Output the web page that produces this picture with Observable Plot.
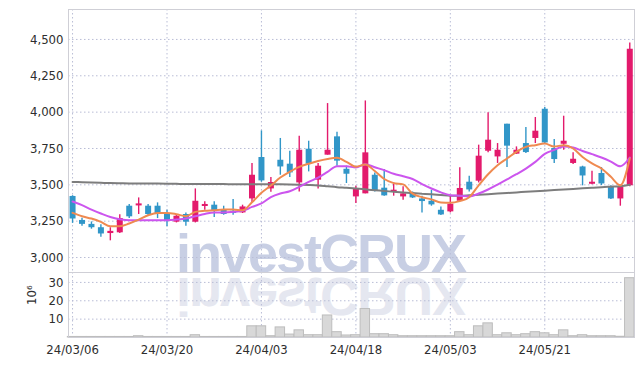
<!DOCTYPE html>
<html><head><meta charset="utf-8">
<script src="https://cdn.jsdelivr.net/npm/d3@7"></script>
<script src="https://cdn.jsdelivr.net/npm/@observablehq/plot@0.6"></script>
<style>
body{margin:0;background:#fff;}
#wrap{position:relative;width:642px;height:366px;overflow:hidden;}
#wm,#price,#vol{position:absolute;left:0;}
#wm{top:0;}
#price{top:0;}
#vol{top:272px;}
</style></head>
<body>
<div id="wrap">
<svg id="wm" width="642" height="366">
  <text x="176" y="272" font-family="Liberation Sans, Arial, sans-serif" font-weight="bold" font-size="54" letter-spacing="-2" fill="#c8cfe4">investCRUX</text>
  <text x="176" y="272" transform="translate(0,550) scale(1,-1)" font-family="Liberation Sans, Arial, sans-serif" font-weight="bold" font-size="54" letter-spacing="-2" fill="#e5e7f0">investCRUX</text>
</svg>
<div id="price"></div>
<div id="vol"></div>
</div>
<script>
const dates = ["24/03/06","24/03/07","24/03/08","24/03/11","24/03/12","24/03/13","24/03/14","24/03/15","24/03/18","24/03/19",
"24/03/20","24/03/21","24/03/22","24/03/25","24/03/26","24/03/27","24/03/28","24/03/29","24/04/01","24/04/02",
"24/04/03","24/04/04","24/04/05","24/04/08","24/04/09","24/04/11","24/04/12","24/04/15","24/04/16","24/04/17",
"24/04/18","24/04/19","24/04/22","24/04/23","24/04/24","24/04/25","24/04/26","24/04/29","24/04/30","24/05/02",
"24/05/03","24/05/07","24/05/08","24/05/09","24/05/10","24/05/13","24/05/14","24/05/16","24/05/17","24/05/20",
"24/05/21","24/05/22","24/05/23","24/05/24","24/05/27","24/05/28","24/05/29","24/05/30","24/05/31","24/06/03"];

const open  = [3420,3255,3228,3205,3165,3170,3353,3355,3353,3353, 3300,3243,3296,3243,3351,3360,3325,3318,3307,3403,
               3688,3472,3669,3642,3513,3745,3532,3704,3830,3607, 3417,3438,3566,3477,3451,3417,3440,3403,3387,3325,
               3314,3387,3518,3525,3731,3692,3917,3711,3784,3819, 4020,3750,3779,3647,3623,3504,3578,3482,3403,3493];
const high  = [3425,3270,3245,3225,3205,3295,3365,3410,3365,3376, 3325,3296,3307,3472,3383,3383,3353,3399,3360,3647,
               3871,3550,3819,3731,3835,3800,3647,4059,3862,3628, 3491,4077,3582,3605,3513,3486,3451,3422,3463,3348,
               3422,3617,3559,3773,3995,3784,3917,3761,3894,3963, 4032,3812,3972,3720,3628,3594,3619,3493,3497,4476];
const low   = [3235,3215,3195,3140,3115,3165,3268,3296,3284,3268, 3211,3238,3215,3238,3325,3275,3291,3291,3303,3376,
               3518,3449,3566,3550,3451,3589,3472,3704,3628,3509, 3372,3438,3451,3422,3422,3394,3406,3307,3353,3289,
               3307,3383,3451,3513,3720,3647,3619,3709,3715,3784, 3784,3647,3738,3640,3493,3500,3495,3399,3353,3486];
const close = [3265,3228,3205,3162,3180,3268,3280,3369,3296,3296, 3252,3284,3243,3387,3365,3318,3296,3303,3348,3566,
               3527,3516,3623,3582,3738,3642,3628,3738,3663,3573, 3468,3720,3458,3424,3463,3438,3410,3385,3362,3293,
               3367,3475,3465,3697,3807,3738,3766,3738,3722,3869, 3788,3674,3800,3676,3561,3518,3506,3403,3482,4432];
// volume in millions
const volume = [0.3,0.3,0.3,0.3,0.3,0.3,0.3,0.7,0.3,0.3, 0.3,0.3,0.3,1.25,0.3,0.3,0.3,0.3,0.3,6.1,
                6.1,0.7,5.5,1.6,3.9,1.25,1.25,12.0,2.9,1.1, 1.25,15.5,1.8,1.8,1.25,0.7,0.7,0.7,0.7,0.7,
                0.7,2.9,1.25,6.1,7.7,1.25,2.3,1.25,1.8,2.9, 2.3,1.25,3.9,0.7,1.25,0.7,0.7,0.7,0.4,32.3];
const maShort = [3307,3284,3268,3245,3215,3215,3234,3261,3291,3307, 3307,3298,3284,3314,3321,3325,3330,3330,3325,3380,
                 3445,3495,3550,3590,3624,3645,3664,3678,3686,3658, 3625,3640,3595,3540,3512,3503,3440,3415,3400,3378,
                 3376,3388,3415,3497,3573,3635,3681,3727,3761,3773, 3784,3763,3773,3750,3692,3647,3612,3555,3497,3681];
const maMid   = [3385,3360,3330,3303,3279,3264,3257,3257,3257,3257, 3257,3261,3268,3284,3300,3310,3310,3314,3321,3348,
                 3372,3415,3440,3456,3486,3520,3550,3589,3628,3628, 3619,3642,3621,3601,3576,3559,3540,3505,3475,3448,
                 3429,3425,3420,3440,3468,3502,3537,3573,3612,3658, 3713,3740,3763,3757,3733,3711,3688,3660,3628,3688];
const maLong  = [3520,3518,3516,3514,3512,3511,3510,3510,3510,3509, 3508,3507,3506,3506,3505,3505,3505,3504,3504,3504,
                 3504,3504,3504,3503,3501,3499,3496,3490,3484,3480, 3475,3469,3463,3458,3452,3447,3443,3439,3435,3430,
                 3425,3425,3428,3432,3436,3440,3444,3448,3452,3456, 3460,3464,3468,3472,3476,3480,3484,3487,3490,3500];
const priceTicks = [3000,3250,3500,3750,4000,4250,4500];
const volTicks = [10,20,30];
const xTickIdx = [0,10,20,30,40,50];

const rows = dates.map((d,i)=>({i, date:d, o:open[i], h:high[i], l:low[i], c:close[i], v:volume[i],
  ms:maShort[i], mm:maMid[i], ml:maLong[i]}));
const up = rows.filter(d=>d.c>=d.o), down = rows.filter(d=>d.c<d.o);

const UP="#e31a6c", DOWN="#3196c8";
const font = "'DejaVu Sans Condensed','DejaVu Sans',sans-serif";
const grid = {stroke:"#b9bdd6", strokeOpacity:1, strokeDasharray:"1.5,2.5", strokeWidth:1};
const xDomain = [-0.43, 59.5];
const style = {background:"transparent", fontFamily:font, fontSize:"13px", color:"#2e2e2e"};

const price = Plot.plot({
  width:642, height:273, marginTop:9, marginBottom:1, marginLeft:68, marginRight:8,
  style,
  x:{type:"linear", domain:xDomain, axis:null, label:null},
  y:{domain:[2897,4706], axis:null, label:null},
  marks:[
    Plot.gridX(xTickIdx, grid),
    Plot.gridY(priceTicks, grid),
    Plot.frame({stroke:"#cfcfd6"}),
    Plot.axisY(priceTicks, {tickSize:0, tickPadding:5, tickFormat:d3.format(","), label:null}),
    Plot.ruleX(up, {x:"i", y1:"l", y2:"h", stroke:UP, strokeWidth:1.4}),
    Plot.ruleX(down, {x:"i", y1:"l", y2:"h", stroke:DOWN, strokeWidth:1.4}),
    Plot.ruleX(up, {x:"i", y1:"o", y2:"c", stroke:UP, strokeWidth:6}),
    Plot.ruleX(down, {x:"i", y1:"o", y2:"c", stroke:DOWN, strokeWidth:6}),
    Plot.line(rows, {x:"i", y:"ml", stroke:"#7d7d7d", strokeWidth:2, curve:"monotone-x"}),
    Plot.line(rows, {x:"i", y:"mm", stroke:"#cc55ee", strokeWidth:2, curve:"monotone-x"}),
    Plot.line(rows, {x:"i", y:"ms", stroke:"#ef8a50", strokeWidth:2, curve:"monotone-x"})
  ]
});
document.getElementById("price").appendChild(price);

const vol = Plot.plot({
  width:642, height:94, marginTop:0, marginBottom:29, marginLeft:68, marginRight:8,
  style,
  x:{type:"linear", domain:xDomain, axis:null, label:null},
  y:{domain:[0,35.4], axis:null, label:null},
  marks:[
    Plot.gridX(xTickIdx, grid),
    Plot.gridY(volTicks, grid),
    Plot.rect(rows, {x1:d=>d.i-0.5, x2:d=>d.i+0.5, y1:0, y2:"v", fill:"#d8d8d8", stroke:"#bdbdbd", strokeWidth:1}),
    Plot.frame({stroke:"#cfcfd6"}),
    Plot.axisY(volTicks, {tickSize:0, tickPadding:5, label:null}),
    Plot.axisX(xTickIdx, {tickSize:0, tickPadding:7, tickFormat:i=>dates[i], label:null}),
    Plot.text(["10⁶"], {text:d=>d, frameAnchor:"left", dx:-37, rotate:-90, fontSize:13, fill:"#2e2e2e"})
  ]
});
document.getElementById("vol").appendChild(vol);
</script>
</body></html>
